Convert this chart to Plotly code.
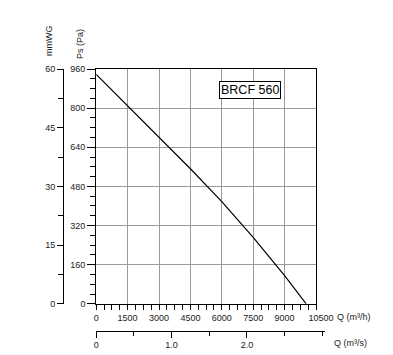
import plotly.graph_objects as go

# Data
q_m3h = [0, 1500, 3000, 4500, 6000, 7500, 9000, 10030]
ps_pa = [938, 810, 680, 552, 418, 272, 115, 0]

x_ticks = [0, 1500, 3000, 4500, 6000, 7500, 9000, 10500]
x_labels = ["0", "1500", "3000", "4500", "6000", "7500", "9000",
            "\u00a0\u00a0\u00a0\u00a010500"]
y_ticks = [0, 160, 320, 480, 640, 800, 960]
mmwg_ticks = [0, 15, 30, 45, 60]
qs_ticks = [0, 1.0, 2.0]
qs_labels = ["0", "1.0", "2.0"]
model = "BRCF 560"

# full 393x355 page; body margin is removed in the page script
W, H, OFF = 393, 355, 0
FONT = "Liberation Sans, Arial, sans-serif"

def px(x):
    return (x - OFF) / W

def py(y):
    return (H + OFF - y) / H

x0, x1 = 96.2, 316.0
y_top, y_bot = 69.0, 303.8
x2_end = 325.0
q2_max = (x2_end - x0) / (x1 - x0) * 10500 / 3600

fig = go.Figure()
fig.add_trace(go.Scatter(x=q_m3h, y=ps_pa, mode="lines",
                         line=dict(color="black", width=1.2),
                         xaxis="x", yaxis="y", hoverinfo="skip", showlegend=False))
# dummy traces to instantiate extra axes
fig.add_trace(go.Scatter(x=[None], y=[None], xaxis="x", yaxis="y2", showlegend=False))
fig.add_trace(go.Scatter(x=[None], y=[None], xaxis="x2", yaxis="y3", showlegend=False))

tickfont = dict(family=FONT, size=9, color="#222")

fig.update_layout(
    width=W, height=H, autosize=False,
    margin=dict(l=0, r=0, t=0, b=0, pad=0),
    paper_bgcolor="white", plot_bgcolor="rgba(0,0,0,0)",
    font=dict(family=FONT, size=9, color="#222"),
    xaxis=dict(
        domain=[px(x0), px(x1)], range=[0, 10500], anchor="y", automargin=False,
        tickvals=x_ticks, ticktext=x_labels,
        ticks="outside", ticklen=5, tickcolor="black", tickwidth=1,
        minor=dict(dtick=375, tick0=0, ticks="outside", ticklen=5, tickcolor="black", showgrid=False),
        showline=True, linecolor="black", linewidth=1, mirror=True,
        showgrid=True, gridcolor="#9a9a9a", gridwidth=1, zeroline=False,
        tickfont=tickfont,
    ),
    yaxis=dict(
        domain=[py(y_bot), py(y_top)], range=[0, 960], anchor="x", automargin=False,
        tickvals=y_ticks,
        ticks="outside", ticklen=8, tickcolor="black", tickwidth=1,
        minor=dict(dtick=40, tick0=0, ticks="outside", ticklen=5, tickcolor="black", showgrid=False),
        showline=True, linecolor="black", linewidth=1, mirror=True,
        showgrid=True, gridcolor="#9a9a9a", gridwidth=1, zeroline=False,
        tickfont=tickfont,
    ),
    yaxis2=dict(
        overlaying="y", anchor="free", position=px(63), side="left", automargin=False,
        range=[0, 60], tickvals=mmwg_ticks,
        ticks="outside", ticklen=6, tickcolor="black", tickwidth=1,
        minor=dict(dtick=7.5, tick0=0, ticks="outside", ticklen=5, tickcolor="black", showgrid=False),
        showline=True, linecolor="black", linewidth=1,
        showgrid=False, zeroline=False, tickfont=tickfont,
    ),
    xaxis2=dict(
        domain=[px(x0), px(x2_end)], range=[0, q2_max], automargin=False,
        anchor="free", position=py(330.5),
        tickvals=qs_ticks, ticktext=qs_labels,
        ticks="outside", ticklen=6, tickcolor="black", tickwidth=1,
        minor=dict(dtick=0.5, tick0=0, ticks="outside", ticklen=4, tickcolor="black", showgrid=False),
        showline=True, linecolor="black", linewidth=1,
        showgrid=False, zeroline=False, tickfont=tickfont,
    ),
    yaxis3=dict(domain=[py(y_bot), py(y_top)], range=[0, 1], anchor="x2", automargin=False,
                visible=False, showgrid=False, zeroline=False),
)

ann = [
    dict(text="mmWG", x=px(49), y=py(41), textangle=-90),
    dict(text="Ps (Pa)", x=px(80), y=py(44), textangle=-90),
    dict(text="Q (m³/h)", x=px(354), y=py(317)),
    dict(text="Q (m³/s)", x=px(350), y=py(343)),
]
for a in ann:
    fig.add_annotation(xref="paper", yref="paper", showarrow=False,
                       xanchor="center", yanchor="middle",
                       font=dict(family=FONT, size=9, color="#222"), **a)

fig.add_annotation(xref="paper", yref="paper", x=px(249.5), y=py(90.2),
                   text=model, showarrow=False, xanchor="center", yanchor="middle",
                   font=dict(family=FONT, size=12.5, color="black"),
                   bordercolor="black", borderwidth=1, borderpad=1,
                   bgcolor="white")

fig.write_html("out.html", config={"staticPlot": True},
               post_script="document.body.style.margin='0';document.body.style.padding='0';"
                           "document.documentElement.style.overflow='hidden';"
                           "document.body.style.overflow='hidden';")
